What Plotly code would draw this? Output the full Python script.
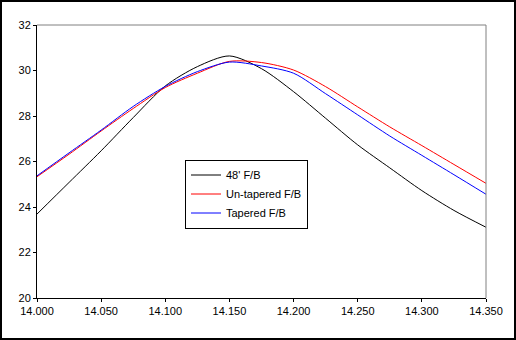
import plotly.graph_objects as go

freq = [14.000, 14.025, 14.050, 14.075, 14.100, 14.125, 14.150, 14.175,
        14.200, 14.225, 14.250, 14.275, 14.300, 14.325, 14.350]
fb_48 = [23.69, 25.08, 26.47, 27.93, 29.32, 30.17, 30.64, 30.08,
         29.07, 27.90, 26.73, 25.72, 24.72, 23.85, 23.11]
fb_untapered = [25.33, 26.32, 27.34, 28.33, 29.25, 29.88, 30.40, 30.35,
                30.02, 29.29, 28.40, 27.52, 26.70, 25.87, 25.04]
fb_tapered = [25.37, 26.38, 27.38, 28.42, 29.30, 29.95, 30.37, 30.20,
              29.88, 28.98, 28.05, 27.12, 26.27, 25.42, 24.56]

names = ["48' F/B", "Un-tapered F/B", "Tapered F/B"]
series = [fb_48, fb_untapered, fb_tapered]
colors = ["#000000", "#FF0000", "#0000FF"]

x_ticks = [14.000, 14.050, 14.100, 14.150, 14.200, 14.250, 14.300, 14.350]
x_tick_text = ["14.000", "14.050", "14.100", "14.150", "14.200", "14.250", "14.300", "14.350"]
y_ticks = [20, 22, 24, 26, 28, 30, 32]

fig = go.Figure()
for n, s, c in zip(names, series, colors):
    fig.add_trace(go.Scatter(x=freq, y=s, name=n, mode="lines",
                             line=dict(color=c, width=1, shape="spline", smoothing=0.8)))

W, H = 516, 340
L, R, T, B = 37, 30, 25, 42
pw, ph = W - L - R, H - T - B

def px_x(p):
    return (p - L) / pw

def px_y(p):
    return (H - B - p) / ph

font = dict(family="Liberation Sans, Arial, sans-serif", size=11, color="black")

fig.update_layout(
    width=W, height=H,
    margin=dict(l=L, r=R, t=T, b=B, pad=0),
    paper_bgcolor="white", plot_bgcolor="white",
    font=font,
    showlegend=True,
    legend=dict(x=px_x(185), y=px_y(159.5), xanchor="left", yanchor="top",
                bgcolor="white", bordercolor="black", borderwidth=1,
                font=font, itemwidth=30, tracegroupgap=0),
    xaxis=dict(range=[14.0, 14.35], tickvals=x_ticks, ticktext=x_tick_text,
               showgrid=False, zeroline=False, showline=True, linecolor="black",
               linewidth=1, ticks="outside", ticklen=3, tickcolor="black",
               tickfont=font),
    yaxis=dict(range=[20, 32], tickvals=y_ticks, showgrid=False, zeroline=False,
               showline=True, linecolor="black", linewidth=1, ticks="outside",
               ticklen=3, tickcolor="black", tickfont=font),
    shapes=[
        dict(type="line", xref="paper", yref="paper", x0=0, x1=1, y0=1, y1=1,
             line=dict(color="#808080", width=1)),
        dict(type="line", xref="paper", yref="paper", x0=1, x1=1, y0=0, y1=1,
             line=dict(color="#808080", width=1)),
        dict(type="rect", xref="paper", yref="paper",
             x0=px_x(1), x1=px_x(515), y0=px_y(339), y1=px_y(1),
             line=dict(color="black", width=2), layer="above"),
    ],
)

fig.write_html("out.html")
